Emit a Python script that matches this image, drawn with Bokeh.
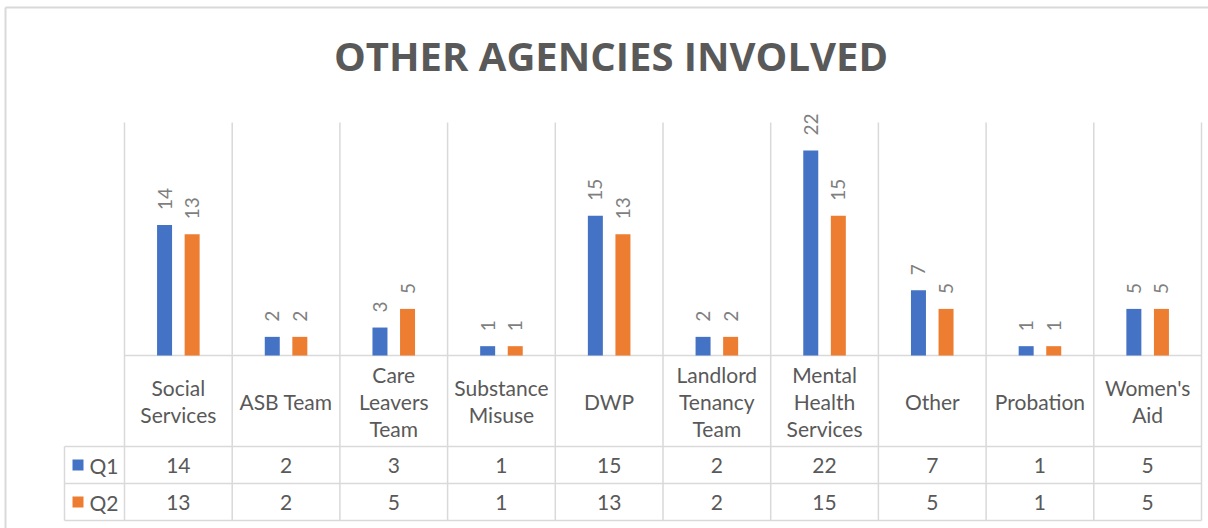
import math
from bokeh.plotting import figure
from bokeh.models import Range1d, ColumnDataSource
from bokeh.core.properties import value
from bokeh.embed import file_html
from bokeh.resources import INLINE

# ---------------- data ----------------
title_text = "OTHER AGENCIES INVOLVED"
categories = ["Social\nServices", "ASB Team", "Care\nLeavers\nTeam", "Substance\nMisuse", "DWP",
              "Landlord\nTenancy\nTeam", "Mental\nHealth\nServices", "Other", "Probation", "Women's\nAid"]
series_names = ["Q1", "Q2"]
q1 = [14, 2, 3, 1, 15, 2, 22, 7, 1, 5]
q2 = [13, 2, 5, 1, 13, 2, 15, 5, 1, 5]
series_values = [q1, q2]
series_colors = ["#4472C4", "#ED7D31"]
y_max = 25

# ---------------- layout (page pixels) ----------------
W, H = 1208, 528
PAGE = 0
X0 = 124.0          # left edge of plot area
CW = 107.7          # category width
Y0 = 355.0          # baseline
PH = 233.0          # plot area height
PPU = PH / y_max
TBL_LEFT = 64.0
ROW_LINES = [446.0, 483.0, 520.0]
GRID = "#d9d9d9"
TXT = "#595959"
FONT = "Lato"


def xd(px):
    return (px - X0) / CW


def yd(py):
    return (Y0 - py) / PPU


n = len(categories)
p = figure(width=W, height=H, output_backend="svg", toolbar_location=None,
           x_range=Range1d(xd(PAGE), xd(PAGE + W)),
           y_range=Range1d(yd(PAGE + H), yd(PAGE)),
           x_axis_location=None, y_axis_location=None,
           min_border=0, outline_line_color=None)
p.xgrid.visible = False
p.ygrid.visible = False
p.background_fill_color = "white"
p.border_fill_color = "white"

# outer chart border (top and left visible)
p.segment(x0=[xd(5)], y0=[yd(7)], x1=[xd(W)], y1=[yd(7)], line_color=GRID, line_width=2)
p.segment(x0=[xd(5)], y0=[yd(7)], x1=[xd(5)], y1=[yd(H)], line_color=GRID, line_width=2)

# vertical grid / table lines
xs = list(range(n + 1))
p.segment(x0=xs, y0=[y_max] * len(xs), x1=xs, y1=[yd(ROW_LINES[-1])] * len(xs),
          line_color=GRID, line_width=1.5)
p.segment(x0=[xd(TBL_LEFT)], y0=[yd(ROW_LINES[0])], x1=[xd(TBL_LEFT)], y1=[yd(ROW_LINES[-1])],
          line_color=GRID, line_width=1.5)
# horizontal lines
p.segment(x0=[0], y0=[0], x1=[n], y1=[0], line_color=GRID, line_width=1.5)
p.segment(x0=[xd(TBL_LEFT)] * 3, y0=[yd(v) for v in ROW_LINES],
          x1=[n] * 3, y1=[yd(v) for v in ROW_LINES], line_color=GRID, line_width=1.5)

# bars + data labels
offsets = [-0.128, 0.128]
bar_w = 15.0 / CW
centers = [i + 0.5 for i in range(n)]
for vals, col, off in zip(series_values, series_colors, offsets):
    src = ColumnDataSource(dict(x=[c + off for c in centers], top=vals,
                                lab=[str(v) for v in vals]))
    p.vbar(x="x", top="top", bottom=0, width=bar_w, source=src,
           fill_color=col, line_color=None)
    p.text(x="x", y="top", text="lab", source=src, angle=math.pi / 2,
           text_align="left", text_baseline="middle", y_offset=-15,
           text_font=value(FONT), text_font_size="19px", text_color="#7f7f7f")

# category labels row
p.text(x=centers, y=[yd((Y0 + ROW_LINES[0]) / 2)] * n, text=categories,
       text_align="center", text_baseline="middle", text_line_height=1.08,
       text_font=value(FONT), text_font_size="21px", text_color=TXT)

# table values rows
row_centers = [(ROW_LINES[0] + ROW_LINES[1]) / 2, (ROW_LINES[1] + ROW_LINES[2]) / 2]
for vals, col, name, rc in zip(series_values, series_colors, series_names, row_centers):
    p.text(x=centers, y=[yd(rc)] * n, text=[str(v) for v in vals],
           text_align="center", text_baseline="middle",
           text_font=value(FONT), text_font_size="21px", text_color=TXT)
    p.scatter(x=[xd(77.5)], y=[yd(rc)], marker="square", size=11,
              fill_color=col, line_color=None)
    p.text(x=[xd(89)], y=[yd(rc)], text=[name], text_align="left", text_baseline="middle",
           text_font=value(FONT), text_font_size="21px", text_color=TXT)

# title
p.text(x=[xd(610.5)], y=[yd(55)], text=[title_text], text_align="center",
       text_baseline="middle", text_font=value("Open Sans"), text_font_style="bold",
       text_font_size="40px", text_color=TXT)

open("out.html", "w").write(file_html(p, INLINE))
